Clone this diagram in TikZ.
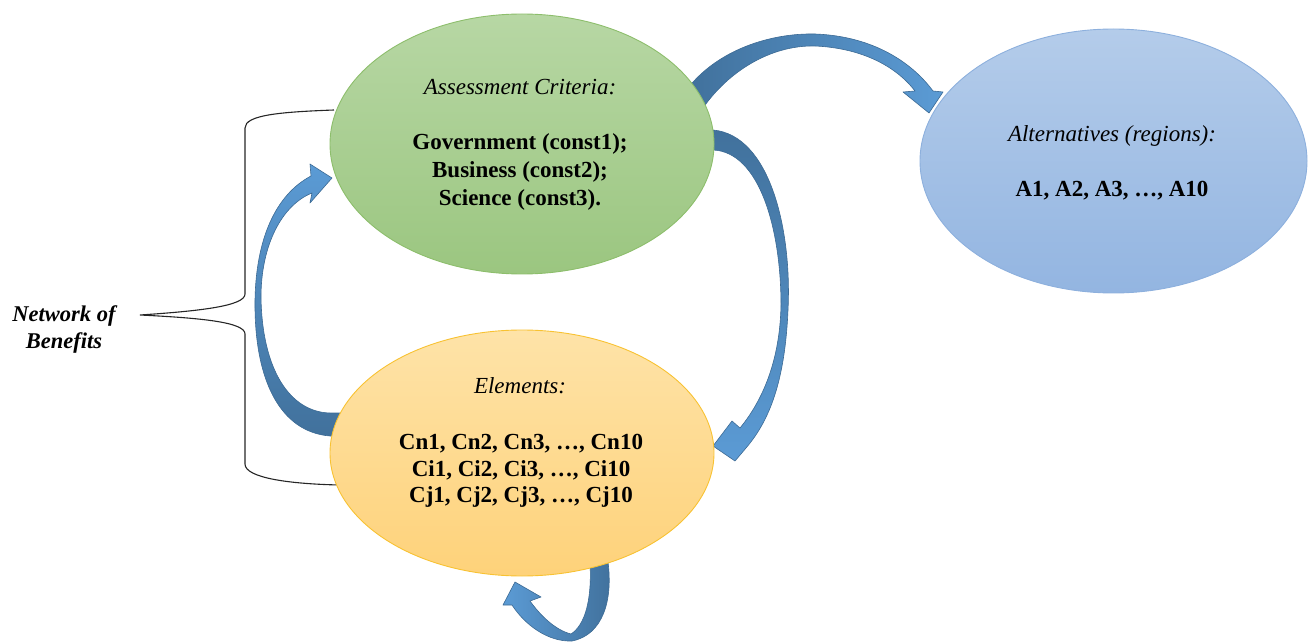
\documentclass[tikz,border=0pt]{standalone}
\usepackage{fontspec}
\setmainfont{Liberation Serif}
\usetikzlibrary{shapes.geometric}
\definecolor{grTop}{HTML}{B7D7A4}
\definecolor{grBot}{HTML}{9BC680}
\definecolor{grEdge}{HTML}{8DBE6C}
\definecolor{blTop}{HTML}{B4CCEA}
\definecolor{blBot}{HTML}{93B5E1}
\definecolor{blEdge}{HTML}{8DB0DD}
\definecolor{orTop}{HTML}{FEE3A8}
\definecolor{orBot}{HTML}{FED27A}
\definecolor{orEdge}{HTML}{F8C232}
\definecolor{arrDark}{HTML}{41719C}
\definecolor{arrLight}{HTML}{5B9BD5}
\definecolor{arrEdge}{HTML}{3C6A94}
\begin{document}
\begin{tikzpicture}[x=1pt,y=-1pt,
  bubble/.style={ellipse, inner sep=0pt, minimum width=384pt, minimum height=248pt, line width=0.9pt},
  lbl/.style={anchor=base, inner sep=0pt, font=\fontsize{23}{27.5}\selectfont},
  ribbon/.style={draw=arrEdge, line width=0.6pt, line join=round},
  bracket/.style={draw=black!85, line width=1.1pt}]
\useasboundingbox (0,0) rectangle (1314,644);

% brace
\coordinate (bt) at (334,110);
\coordinate (bb) at (340,485);
\coordinate (tip) at (140,315);
\draw[bracket] (bt) .. controls (280,112) and (245,115) .. (245,128) -- (245,294)
  .. controls (245,306) and (200,311) .. (tip)
  .. controls (200,318) and (245,322) .. (245,334) -- (245,464)
  .. controls (245,478) and (290,484) .. (bb);
\node[lbl, font=\fontsize{22.5}{27}\selectfont\bfseries\itshape] (nw1) at (64,321.5) {Network of};
\node[lbl, font=\fontsize{22.5}{27}\selectfont\bfseries\itshape] (nw2) at (64,348) {Benefits};

% curved arrows
\draw[ribbon, left color=arrDark, right color=arrLight]
  (688,88) .. controls (718,50) and (770,33) .. (815,34)
  .. controls (870,36) and (910,60) .. (933,91) -- (943,92) -- (929,113) -- (903,92) -- (915,91)
  .. controls (895,65) and (860,48) .. (815,46)
  .. controls (770,45) and (728,72) .. (703,108) -- cycle;
\draw[ribbon, top color=arrDark, bottom color=arrLight]
  (705,130) -- (713,130) .. controls (770,135) and (792,230) .. (788,310)
  .. controls (785,380) and (770,420) .. (746,448) -- (735,461) -- (713,446) -- (732,421) -- (740,428)
  .. controls (763,400) and (780,360) .. (781,305)
  .. controls (781,230) and (760,152) .. (713,150) -- (705,150) -- cycle;
\draw[ribbon, bottom color=arrDark, top color=arrLight]
  (345,436) -- (330,436) .. controls (280,432) and (254,380) .. (255,300)
  .. controls (256,240) and (275,195) .. (311,176) -- (310,164) -- (332,178) -- (310,203) -- (312,193)
  .. controls (282,205) and (261,245) .. (261,297)
  .. controls (262,370) and (290,412) .. (330,413) -- (345,413) -- cycle;
\draw[ribbon, right color=arrDark, left color=arrLight]
  (608,552) -- (608,562) .. controls (613,600) and (603,635) .. (572,641)
  .. controls (548,642) and (525,625) .. (512,605) -- (503,605) -- (515,582) -- (541,597) -- (530,601)
  .. controls (540,615) and (555,630) .. (571,634)
  .. controls (585,625) and (592,600) .. (590,563) -- (590,552) -- cycle;

% ellipses
\node[bubble, draw=grEdge, top color=grTop, bottom color=grBot, minimum height=260pt] (crit) at (522,144) {};
\node[bubble, draw=blEdge, top color=blTop, bottom color=blBot, minimum width=387pt, minimum height=264pt] (alt) at (1113.5,161) {};
\node[bubble, draw=orEdge, top color=orTop, bottom color=orBot, minimum height=246pt] (elem) at (522,453) {};

% texts
\node[lbl, font=\fontsize{23}{27.5}\selectfont\itshape] (c0) at (520,95) {Assessment Criteria:};
\node[lbl, font=\fontsize{23}{27.5}\selectfont\bfseries] (c1) at (520,150) {Government (const1);};
\node[lbl, font=\fontsize{23}{27.5}\selectfont\bfseries] (c2) at (520,178) {Business (const2);};
\node[lbl, font=\fontsize{23}{27.5}\selectfont\bfseries] (c3) at (520,205.5) {Science (const3).};

\node[lbl, font=\fontsize{23}{27.5}\selectfont\itshape] (a0) at (1112,142) {Alternatives (regions):};
\node[lbl, font=\fontsize{23}{27.5}\selectfont\bfseries] (a1) at (1112,197) {A1, A2, A3, …, A10};

\node[lbl, font=\fontsize{23}{27.5}\selectfont\itshape] (e0) at (520,393) {Elements:};
\node[lbl, font=\fontsize{23}{27.5}\selectfont\bfseries] (e1) at (521,449) {Cn1, Cn2, Cn3, …, Cn10};
\node[lbl, font=\fontsize{23}{27.5}\selectfont\bfseries] (e2) at (521,476) {Ci1, Ci2, Ci3, …, Ci10};
\node[lbl, font=\fontsize{23}{27.5}\selectfont\bfseries] (e3) at (521,502) {Cj1, Cj2, Cj3, …, Cj10};
\end{tikzpicture}
\end{document}
